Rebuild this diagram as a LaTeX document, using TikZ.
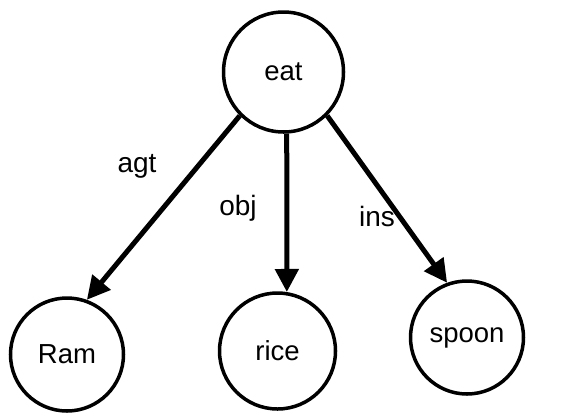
\documentclass[tikz,border=0pt]{standalone}
\usepackage{fontspec}
\setmainfont{Liberation Sans}
\usetikzlibrary{arrows.meta}
\begin{document}
\begin{tikzpicture}[x=1pt,y=-1pt,
  concept/.style={circle,draw,line width=3.5pt,inner sep=0pt,font=\fontsize{27.5}{30}\selectfont},
  rel/.style={line width=5pt,-{Triangle[length=23pt,width=23pt]}},
  lbl/.style={font=\fontsize{28}{30}\selectfont,inner sep=0pt}]
\useasboundingbox (0,0) rectangle (564,416);
\node[concept,minimum size=120pt] (eat) at (283.5,72) {eat};
\node[concept,minimum size=113pt] (ram) at (67,354.5) {Ram};
\node[concept,minimum size=116pt] (rice) at (277.5,351) {rice};
\node[concept,minimum size=113pt] (spoon) at (467,337.5) {spoon};
\draw[rel] (eat.225) -- (ram.70);
\draw[rel] (eat.273) -- (rice.81);
\draw[rel] (eat.315) -- (spoon.110);
\node[lbl] (agt) at (137,166) {agt};
\node[lbl] (obj) at (238,208) {obj};
\node[lbl] (ins) at (377,216) {ins};
\end{tikzpicture}
\end{document}
